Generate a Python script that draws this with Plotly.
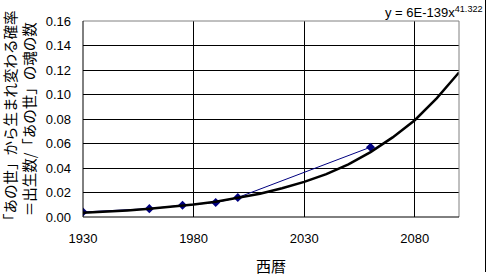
import plotly.graph_objects as go

# Observed data (blue diamonds)
years_obs = [1930, 1960, 1975, 1990, 2000, 2060]
prob_obs = [0.0041, 0.0068, 0.0096, 0.0118, 0.0159, 0.057]

# Power trendline y = 6E-139 x^41.322
years_trend = [1930, 1940, 1950, 1960, 1970, 1980, 1990, 2000, 2010, 2020,
               2030, 2040, 2050, 2060, 2070, 2080, 2090, 2100]
prob_trend = [0.0035, 0.0043, 0.0054, 0.0067, 0.0082, 0.0102, 0.0125, 0.0155,
              0.019, 0.0235, 0.0287, 0.035, 0.043, 0.053, 0.065, 0.079, 0.097, 0.118]

x_ticks = [1930, 1980, 2030, 2080]
y_ticks = [0.00, 0.02, 0.04, 0.06, 0.08, 0.10, 0.12, 0.14, 0.16]

W, H = 489, 277
L, R, T, B = 83, 30, 21, 60
pw, ph = W - L - R, H - T - B

def px_x(p):
    return (p - L) / pw

def px_y(p):
    return (H - B - p) / ph

fig = go.Figure()
fig.add_trace(go.Scatter(x=years_obs, y=prob_obs, mode="lines+markers",
                         line=dict(color="#000080", width=1),
                         marker=dict(symbol="diamond", size=7, color="#000080"),
                         showlegend=False))
fig.add_trace(go.Scatter(x=years_trend, y=prob_trend, mode="lines",
                         line=dict(color="black", width=2.5),
                         showlegend=False))

axis_font = dict(family="Liberation Sans, Arial", size=13, color="black")
fig.update_xaxes(range=[1930, 2100], tickvals=x_ticks, ticktext=[str(v) for v in x_ticks],
                 showgrid=True, gridcolor="black", gridwidth=1,
                 showline=False, zeroline=False, ticks="",
                 tickfont=axis_font, ticklabelstandoff=12)
fig.update_yaxes(range=[0, 0.16], tickvals=y_ticks, tickformat=".2f",
                 showgrid=True, gridcolor="black", gridwidth=1,
                 showline=False, zeroline=False, ticks="",
                 tickfont=axis_font, ticklabelstandoff=11)

shapes = [
    dict(type="line", xref="paper", yref="paper", x0=0, x1=1, y0=1, y1=1,
         line=dict(color="#808080", width=1)),
    dict(type="line", xref="paper", yref="paper", x0=1, x1=1, y0=0, y1=1,
         line=dict(color="#808080", width=1)),
    dict(type="line", xref="paper", yref="paper", x0=0, x1=0, y0=0, y1=1,
         line=dict(color="black", width=1)),
    dict(type="line", xref="paper", yref="paper", x0=0, x1=1, y0=0, y1=0,
         line=dict(color="black", width=1)),
    dict(type="line", xref="paper", yref="paper", x0=px_x(485.5), x1=px_x(485.5),
         y0=px_y(0), y1=px_y(272), line=dict(color="black", width=1)),
]

cjk = "Noto Sans CJK JP"
annotations = [
    dict(text="「あの世」から生まれ変わる確率<br>＝出生数/「あの世」の魂の数",
         xref="paper", yref="paper", x=px_x(19), y=0.5, xanchor="center", yanchor="middle",
         textangle=-90, showarrow=False, font=dict(family=cjk, size=14.5, color="black")),
    dict(text="西暦", xref="paper", yref="paper", x=0.5, y=px_y(265),
         xanchor="center", yanchor="middle", showarrow=False,
         font=dict(family=cjk, size=15, color="black")),
    dict(text="y = 6E-139x<sup>41.322</sup>", xref="paper", yref="paper",
         x=px_x(485), y=px_y(12), xanchor="right", yanchor="middle", showarrow=False,
         font=dict(family="Liberation Sans, Arial", size=13, color="black")),
]

fig.update_layout(width=W, height=H, margin=dict(l=L, r=R, t=T, b=B),
                  paper_bgcolor="white", plot_bgcolor="white",
                  shapes=shapes, annotations=annotations, showlegend=False)

fig.write_html("out.html")
